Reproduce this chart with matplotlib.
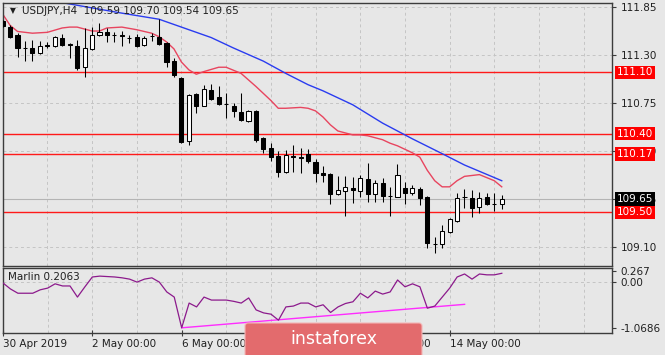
import matplotlib
matplotlib.use("Agg")
import matplotlib.pyplot as plt
from matplotlib.patches import FancyBboxPatch

#H4 candles, 30 Apr 2019 00:00 .. 15 May 2019 04:00
opens = [111.69, 111.62, 111.53, 111.38, 111.38, 111.32, 111.415, 111.40, 111.495, 111.43,
         111.40, 111.16, 111.37, 111.53, 111.56, 111.53, 111.525, 111.50, 111.51, 111.415,
         111.52, 111.51, 111.44, 111.23, 111.04, 110.315, 110.85, 110.72, 110.90, 110.82,
         110.74, 110.72, 110.65, 110.545, 110.66, 110.35, 110.235, 110.145, 109.96, 110.14,
         110.13, 110.17, 110.075, 109.95, 109.94, 109.71, 109.74, 109.78, 109.74, 109.88,
         109.71, 109.83, 109.685, 109.675, 109.78, 109.72, 109.765, 109.675, 109.14, 109.135,
         109.275, 109.40, 109.675, 109.66, 109.56, 109.675, 109.595, 109.59]
highs = [111.70, 111.64, 111.55, 111.46, 111.47, 111.46, 111.45, 111.52, 111.54, 111.435,
         111.47, 111.61, 111.62, 111.67, 111.61, 111.56, 111.575, 111.53, 111.54, 111.52,
         111.55, 111.71, 111.45, 111.27, 111.05, 110.85, 110.865, 110.96, 110.97, 110.945,
         110.865, 110.75, 110.865, 110.67, 110.67, 110.36, 110.29, 110.20, 110.21, 110.27,
         110.235, 110.225, 110.11, 110.03, 109.95, 109.915, 109.915, 109.90, 109.93, 110.065,
         109.87, 109.89, 109.79, 110.05, 109.845, 109.81, 109.79, 109.685, 109.22, 109.35,
         109.435, 109.72, 109.765, 109.755, 109.73, 109.72, 109.72, 109.70]
lows = [111.62, 111.50, 111.28, 111.23, 111.23, 111.31, 111.38, 111.39, 111.40, 111.27,
        111.13, 111.05, 111.36, 111.52, 111.45, 111.45, 111.40, 111.44, 111.39, 111.40,
        111.46, 111.415, 111.16, 111.05, 110.29, 110.27, 110.64, 110.715, 110.785, 110.73,
        110.58, 110.59, 110.545, 110.53, 110.30, 110.18, 110.09, 109.90, 109.95, 109.96,
        109.95, 110.065, 109.845, 109.845, 109.59, 109.70, 109.455, 109.605, 109.675, 109.615,
        109.615, 109.615, 109.455, 109.67, 109.59, 109.70, 109.58, 109.09, 109.03, 109.09,
        109.265, 109.39, 109.545, 109.445, 109.49, 109.58, 109.51, 109.54]
closes = [111.63, 111.51, 111.38, 111.375, 111.32, 111.40, 111.40, 111.51, 111.415, 111.415,
          111.15, 111.38, 111.53, 111.56, 111.53, 111.525, 111.52, 111.495, 111.40, 111.495,
          111.515, 111.43, 111.22, 111.07, 110.30, 110.84, 110.72, 110.91, 110.80, 110.74,
          110.735, 110.66, 110.56, 110.66, 110.33, 110.225, 110.13, 109.96, 110.155, 110.13,
          110.125, 110.09, 109.95, 109.93, 109.71, 109.755, 109.79, 109.755, 109.89, 109.71,
          109.83, 109.685, 109.68, 109.93, 109.72, 109.78, 109.66, 109.15, 109.135, 109.285,
          109.425, 109.66, 109.67, 109.545, 109.66, 109.59, 109.59, 109.65]

#fast moving average (red), read at bar index
red_bars = [0, 1, 2, 4, 6, 8, 9, 10, 12, 13, 14, 16, 18, 20, 21, 22, 23, 24, 25, 26,
            27, 29, 30, 32, 34, 36, 37, 38, 40, 41, 42, 43, 44, 45, 47, 48, 49, 51, 52, 53,
            55, 56, 57, 58, 59, 60, 61, 62, 64, 66, 67]
red_vals = [111.77, 111.64, 111.57, 111.55, 111.56, 111.61, 111.62, 111.62, 111.575, 111.575,
            111.61, 111.62, 111.59, 111.55, 111.51, 111.45, 111.37, 111.22, 111.13, 111.08,
            111.11, 111.16, 111.16, 111.09, 110.94, 110.78, 110.69, 110.69, 110.70, 110.69,
            110.66, 110.59, 110.50, 110.43, 110.385, 110.385, 110.375, 110.33, 110.29, 110.26,
            110.18, 110.13, 109.98, 109.86, 109.79, 109.79, 109.86, 109.91, 109.93, 109.86,
            109.79]

#slow moving average (blue)
blue_bars = [7, 8, 16, 21, 24, 28, 31, 35, 38, 41, 43, 47, 51, 55, 59, 62, 67]
blue_vals = [111.93, 111.90, 111.78, 111.71, 111.62, 111.50, 111.38, 111.23, 111.09, 110.96,
             110.89, 110.73, 110.52, 110.34, 110.17, 110.04, 109.86]

#Marlin oscillator
marlin = [-0.02, -0.16, -0.26, -0.26, -0.26, -0.18, -0.14, -0.04, -0.09, -0.09,
          -0.35, -0.11, 0.12, 0.14, 0.13, 0.12, 0.10, 0.07, 0.00, 0.07,
          0.10, 0.00, -0.23, -0.35, -1.0686, -0.49, -0.58, -0.35, -0.42, -0.42,
          -0.42, -0.45, -0.49, -0.37, -0.65, -0.72, -0.75, -0.89, -0.58, -0.56,
          -0.49, -0.49, -0.58, -0.53, -0.71, -0.58, -0.50, -0.46, -0.26, -0.37,
          -0.21, -0.28, -0.23, 0.05, -0.11, -0.04, -0.11, -0.61, -0.56, -0.35,
          -0.14, 0.12, 0.19, 0.07, 0.19, 0.17, 0.17, 0.2063]

#divergence line on the oscillator
div_bars = [24, 62]
div_vals = [-1.0686, -0.52]

levels = [111.10, 110.40, 110.17, 109.50]
last_price = 109.65
price_ticks = [111.85, 111.30, 110.75, 110.20, 109.65, 109.10]
marlin_ticks = [0.267, 0.00, -1.0686]
time_bars = [0, 12, 24, 36, 48, 60]
time_labels = ["30 Apr 2019", "2 May 00:00", "6 May 00:00", "8 May 00:00",
               "10 May 00:00", "14 May 00:00"]

#_____________________________________________________________________________
def main():

    bg = "#e7e7e7"
    frame = "#3c3c3c"
    gridcol = "#c4c4c4"

    plt.rcParams["font.family"] = ["DejaVu Sans"]

    fig = plt.figure(figsize=(6.65, 3.55), dpi=100)
    fig.patch.set_facecolor(bg)

    W, H = 665., 355.
    ax = fig.add_axes([3/W, 1-266/H, 609/W, 263/H])
    ax2 = fig.add_axes([3/W, 1-333/H, 609/W, 65/H])

    for a in (ax, ax2):
        a.set_facecolor(bg)
        for s in a.spines.values():
            s.set_color(frame)
            s.set_linewidth(1.0)
        a.set_xlim(0.05, 81.8)
        #day separators
        for d in range(6, 82, 6):
            a.axvline(d, color=gridcol, lw=0.7, ls=(0, (3, 3)), zorder=0)

    #main window
    ax.set_ylim(108.883, 111.896)
    for p in price_ticks:
        ax.axhline(p, color=gridcol, lw=0.7, ls=(0, (3, 3)), zorder=0)

    ax.axhline(last_price, color="#b4b4b4", lw=0.8, zorder=1)
    for lv in levels:
        ax.axhline(lv, color="#ff1a1a", lw=1.0, zorder=2)

    ax.plot(blue_bars, blue_vals, color="#2a3cf0", lw=1.0, zorder=2)
    ax.plot(red_bars, red_vals, color="#e8455f", lw=1.0, zorder=2)

    draw_candles(ax)

    ax.set_xticks([])
    ax.yaxis.tick_right()
    ax.set_yticks(price_ticks)
    ax.set_yticklabels(["{0:.2f}".format(p) for p in price_ticks])
    ax.tick_params(axis="y", direction="out", length=3, width=0.8, colors=frame,
                   labelsize=7.5, pad=3, labelcolor="#202020")

    #price labels on the scale
    trans = ax.get_yaxis_transform()
    for lv in levels:
        ax.text(1 + 5/609, lv, "{0:.2f}".format(lv), transform=trans, ha="left",
                va="center", color="white", fontsize=7.5, zorder=10,
                bbox=dict(boxstyle="square,pad=0.18", fc="#ff0000", ec="none"))
    ax.text(1 + 5/609, last_price, "{0:.2f}".format(last_price), transform=trans,
            ha="left", va="center", color="white", fontsize=7.5, zorder=10,
            bbox=dict(boxstyle="square,pad=0.18", fc="#000000", ec="none"))

    #symbol header
    ax.text(7/609, 1-8/263, "\u25bc", transform=ax.transAxes, ha="left", va="center",
            fontsize=5.5, color="#202020", zorder=11)
    hdr = "USDJPY,H4  {0:.2f} {1:.2f} {2:.2f} {3:.2f}".format(
        opens[-1], highs[-1], lows[-1], closes[-1])
    ax.text(19/609, 1-8/263, hdr, transform=ax.transAxes, ha="left", va="center",
            fontsize=7.5, color="#202020", zorder=11)

    #oscillator window
    ax2.set_ylim(-1.19, 0.33)
    ax2.axhline(0.0, color=gridcol, lw=0.7, ls=(0, (3, 3)), zorder=0)
    ax2.plot(range(len(marlin)), marlin, color="#8c1a8c", lw=0.9, zorder=3)
    ax2.plot(div_bars, div_vals, color="#ff2cff", lw=1.0, zorder=2)

    ax2.yaxis.tick_right()
    ax2.set_yticks(marlin_ticks)
    ax2.set_yticklabels(["0.267", "0.00", "-1.0686"])
    ax2.tick_params(axis="y", direction="out", length=3, width=0.8, colors=frame,
                    labelsize=7.5, pad=3, labelcolor="#202020")

    ax2.set_xticks(time_bars)
    ax2.set_xticklabels(time_labels)
    for t in ax2.get_xticklabels():
        t.set_horizontalalignment("left")
    ax2.tick_params(axis="x", direction="inout", length=5, width=0.8, colors=frame,
                    labelsize=7.5, pad=2, labelcolor="#202020")

    ax2.text(5/609, 0.86, "Marlin 0.2063", transform=ax2.transAxes, ha="left",
             va="center", fontsize=7.5, color="#202020")

    #watermark banner
    box = FancyBboxPatch((2.45, -0.1), 1.77, 0.42, boxstyle="round,pad=0,rounding_size=0.03",
                         transform=fig.dpi_scale_trans, fc="#e36b6d", ec="#f2b5b5",
                         lw=0.8, zorder=20)
    fig.patches.append(box)
    fig.text(3.335/6.65, 0.155/3.55, "instaforex", ha="center", va="center",
             color="white", fontsize=12.5, zorder=21)

    fig.savefig("out.png", dpi=100, facecolor=bg)
    plt.close()

#main

#_____________________________________________________________________________
def draw_candles(ax):

    idx = list(range(len(opens)))

    ax.vlines(idx, lows, highs, color="black", lw=0.75, zorder=4)

    bottoms = [min(o, c) for o, c in zip(opens, closes)]
    heights = [abs(c - o) for o, c in zip(opens, closes)]
    cols = ["white" if c > o else "black" for o, c in zip(opens, closes)]

    ax.bar(idx, heights, bottom=bottoms, width=0.55, color=cols, edgecolor="black",
           lw=0.75, zorder=5)

#draw_candles

#_____________________________________________________________________________
if __name__ == "__main__":

    main()
